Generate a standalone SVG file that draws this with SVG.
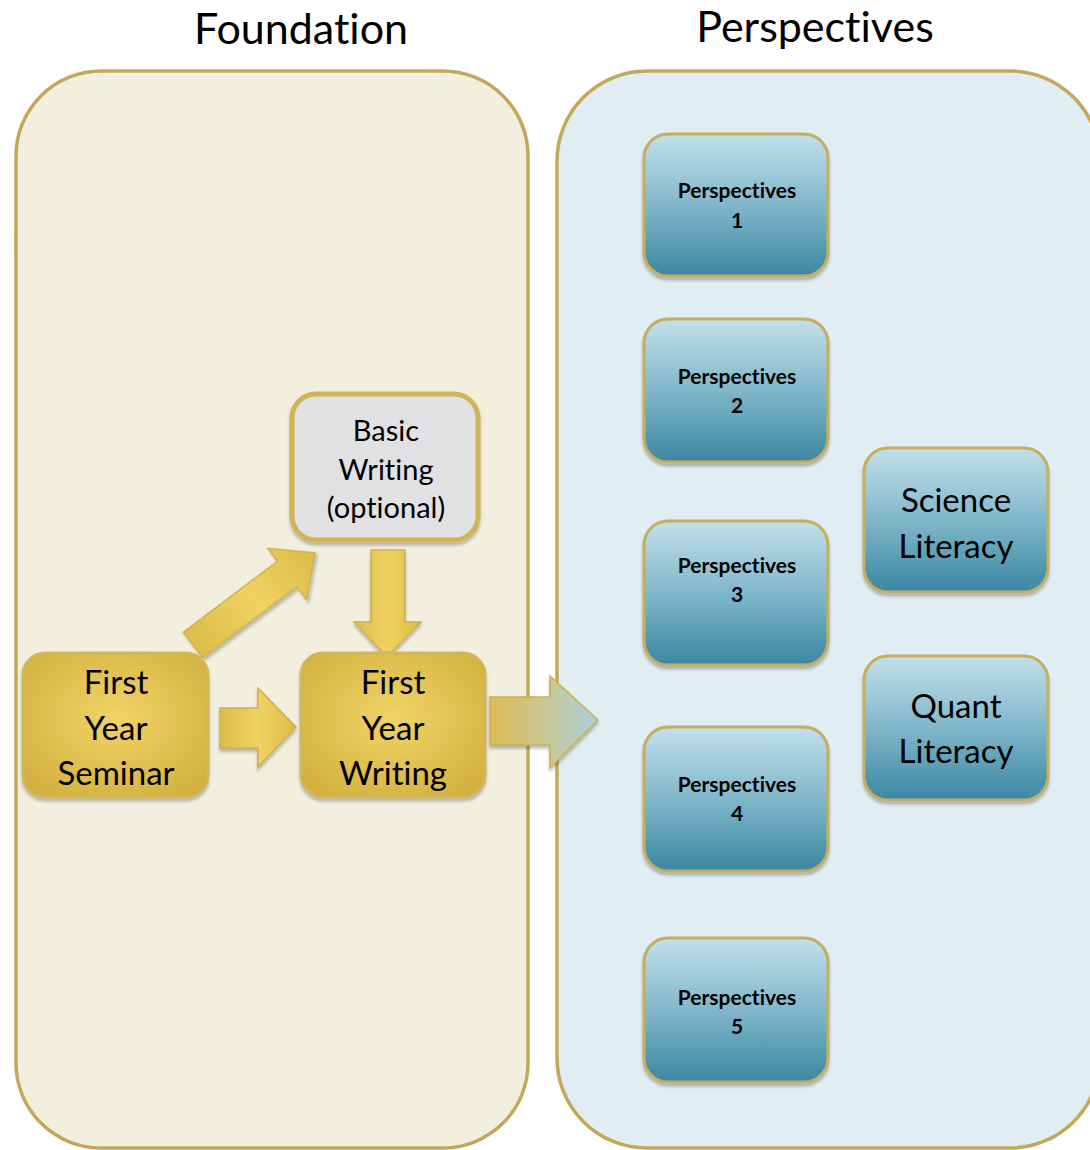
<svg xmlns="http://www.w3.org/2000/svg" width="1090" height="1150" viewBox="0 0 1090 1150">
<defs>
<linearGradient id="blueG" x1="0" y1="0" x2="0" y2="1">
<stop offset="0" stop-color="#c2e0ea"/>
<stop offset="0.5" stop-color="#80b7ca"/>
<stop offset="1" stop-color="#3b87a3"/>
</linearGradient>
<radialGradient id="goldG" cx="0.5" cy="0.45" r="0.65">
<stop offset="0" stop-color="#f1d466"/>
<stop offset="1" stop-color="#d3b03f"/>
</radialGradient>
<linearGradient id="arrowG" x1="0" y1="0" x2="1" y2="0">
<stop offset="0" stop-color="#dcbc4a"/>
<stop offset="0.5" stop-color="#f0d262"/>
<stop offset="1" stop-color="#dcbc4a"/>
</linearGradient>
<linearGradient id="bigArrowG" x1="490" y1="0" x2="598" y2="0" gradientUnits="userSpaceOnUse">
<stop offset="0" stop-color="#dbbd55"/>
<stop offset="0.55" stop-color="#c8c79a"/>
<stop offset="1" stop-color="#a9d1dc"/>
</linearGradient>
<filter id="sh" x="-10%" y="-10%" width="120%" height="125%">
<feDropShadow dx="0" dy="3" stdDeviation="1.5" flood-color="#000" flood-opacity="0.25"/>
</filter>
</defs>
<style>
text{font-family:"Lato","Liberation Sans",sans-serif;fill:#000;text-anchor:middle;font-variant-ligatures:none;font-feature-settings:"liga" 0}
.panelL{fill:#f2efdf;stroke:#c3a85a;stroke-width:3.5}
.panelR{fill:#e0edf2;stroke:#c3a85a;stroke-width:3.5}
.pbox{fill:url(#blueG);stroke:#c6ad5e;stroke-width:3;filter:url(#sh)}
.gbox{fill:url(#goldG);stroke:#d2b65a;stroke-width:3;filter:url(#sh)}
.wbox{fill:#e1e1e3;stroke:#d0b458;stroke-width:5;filter:url(#sh)}
.arrow{stroke:#cdb04c;stroke-width:1.5;filter:url(#sh)}
.title{font-size:43px}
.ptxt{font-size:21px;font-weight:bold}
.btxt{font-size:33px}
.wtxt{font-size:29px}
.ltxt{font-size:33px}
</style>

<g id="foundation-panel">
<rect class="panelL" x="16" y="71" width="512" height="1077" rx="85" ry="85"/>
<text class="title" x="301" y="44">Foundation</text>
</g>
<g id="perspectives-panel">
<rect class="panelR" x="557" y="71" width="543" height="1077" rx="90" ry="90"/>
<text class="title" x="815" y="42">Perspectives</text>
</g>

<g id="connectors">
<polygon class="arrow" fill="url(#arrowG)" transform="translate(193,645) rotate(-37)" points="0,-16 118,-16 118,-32 153,0 118,32 118,16 0,16"/>
<polygon class="arrow" fill="url(#arrowG)" points="371,550 405,550 405,622 421,622 387,657 354,622 371,622"/>
<polygon class="arrow" fill="url(#arrowG)" points="220,708 258,708 258,688 296,727 258,767 258,748 220,748"/>
<polygon class="arrow" fill="url(#bigArrowG)" points="490,697 550,697 550,676 598,720 550,768 550,745 490,745"/>
</g>

<g id="basic-writing">
<rect class="wbox" x="292" y="394" width="186" height="146" rx="24" ry="24"/>
<text class="wtxt" x="386" y="441">Basic</text>
<text class="wtxt" x="386" y="480">Writing</text>
<text class="wtxt" x="386" y="518">(optional)</text>
</g>

<g id="first-year-seminar">
<rect class="gbox" x="23" y="653" width="185" height="144" rx="22" ry="22"/>
<text class="btxt" x="116" y="694">First</text>
<text class="btxt" x="116" y="740">Year</text>
<text class="btxt" x="116" y="785">Seminar</text>
</g>

<g id="first-year-writing">
<rect class="gbox" x="301" y="653" width="184" height="144" rx="22" ry="22"/>
<text class="btxt" x="393" y="694">First</text>
<text class="btxt" x="393" y="740">Year</text>
<text class="btxt" x="393" y="785">Writing</text>
</g>

<g id="perspectives-1">
<rect class="pbox" x="644" y="134" width="184" height="142" rx="24" ry="24"/>
<text class="ptxt" x="737" y="198">Perspectives</text>
<text class="ptxt" x="737" y="228">1</text>
</g>
<g id="perspectives-2">
<rect class="pbox" x="644" y="319" width="184" height="143" rx="24" ry="24"/>
<text class="ptxt" x="737" y="384">Perspectives</text>
<text class="ptxt" x="737" y="413">2</text>
</g>
<g id="perspectives-3">
<rect class="pbox" x="644" y="521" width="184" height="144" rx="24" ry="24"/>
<text class="ptxt" x="737" y="573">Perspectives</text>
<text class="ptxt" x="737" y="602">3</text>
</g>
<g id="perspectives-4">
<rect class="pbox" x="644" y="727" width="184" height="144" rx="24" ry="24"/>
<text class="ptxt" x="737" y="792">Perspectives</text>
<text class="ptxt" x="737" y="821">4</text>
</g>
<g id="perspectives-5">
<rect class="pbox" x="644" y="938" width="184" height="144" rx="24" ry="24"/>
<text class="ptxt" x="737" y="1005">Perspectives</text>
<text class="ptxt" x="737" y="1034">5</text>
</g>

<g id="science-literacy">
<rect class="pbox" x="864" y="448" width="184" height="144" rx="24" ry="24"/>
<text class="ltxt" x="956" y="512">Science</text>
<text class="ltxt" x="956" y="558">Literacy</text>
</g>
<g id="quant-literacy">
<rect class="pbox" x="864" y="656" width="184" height="144" rx="24" ry="24"/>
<text class="ltxt" x="956" y="718">Quant</text>
<text class="ltxt" x="956" y="763">Literacy</text>
</g>
</svg>
